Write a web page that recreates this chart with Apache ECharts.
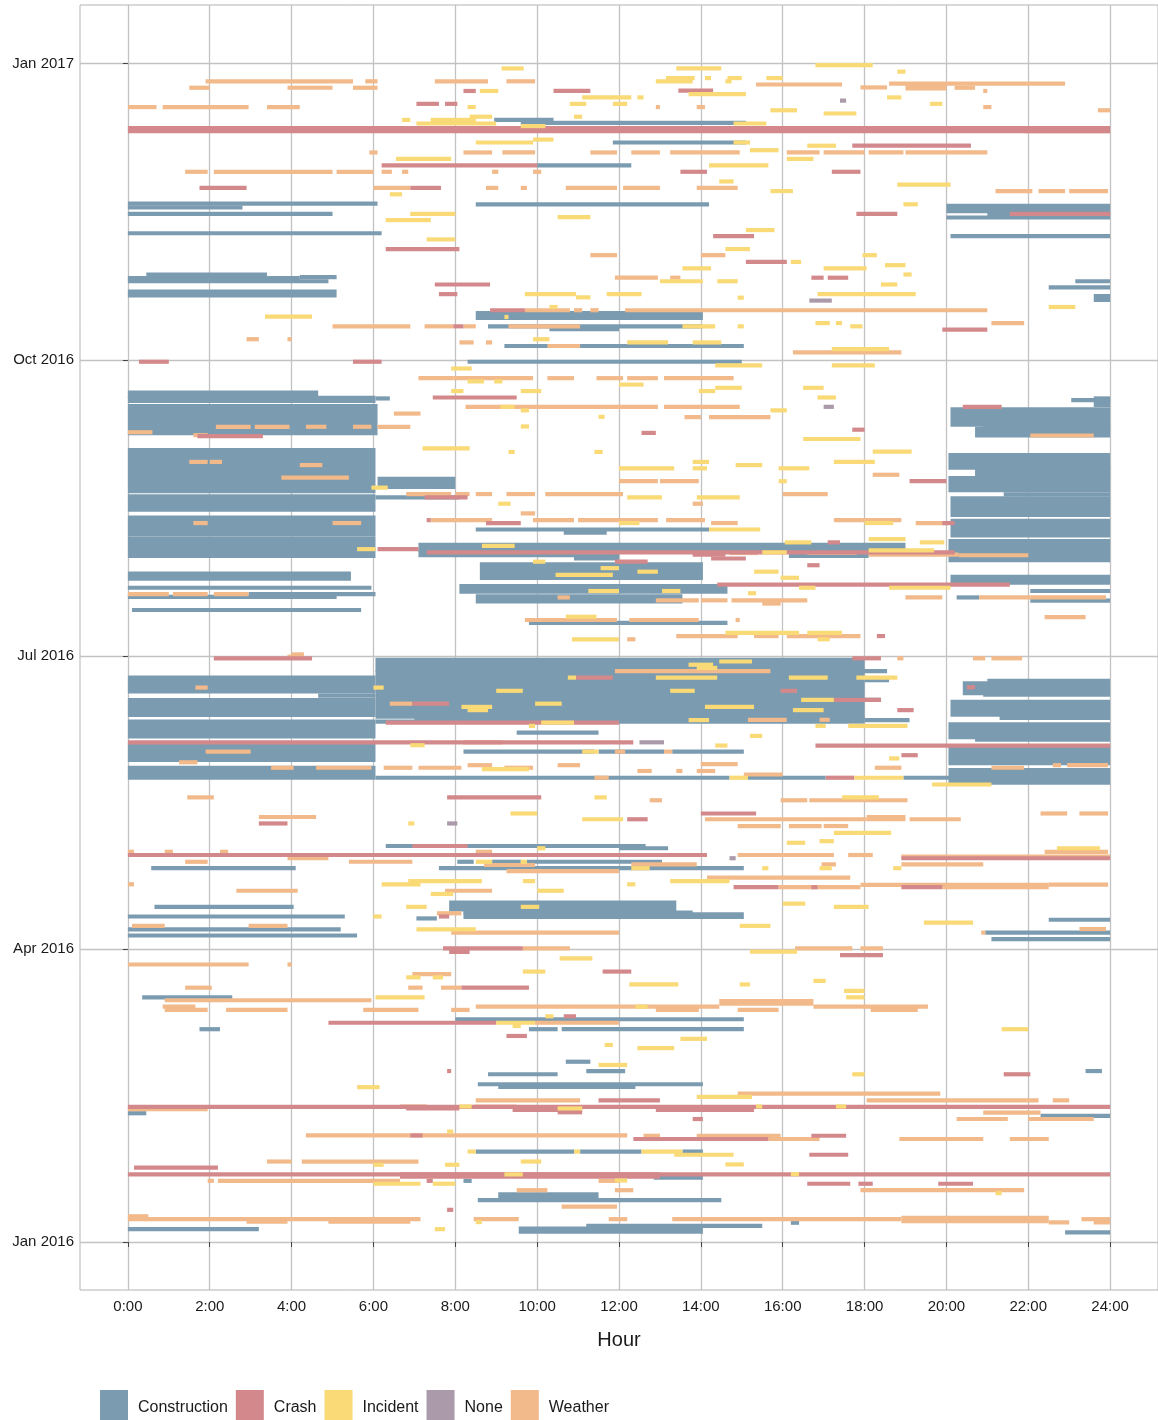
<!DOCTYPE html>
<html>
<head>
<meta charset="utf-8">
<script src="https://cdn.jsdelivr.net/npm/echarts@6/dist/echarts.min.js"></script>
<style>
  html, body { margin: 0; background: #ffffff; }
  #chart { width: 1158px; height: 1420px; }
</style>
</head>
<body>
<div id="chart"></div>
<script>
// each event: [day (days since 1 Jan 2016), start hour, end hour, last day if it spans several days]
var construction = [
  [348.5, 8.95, 10.4], [347.6, 9.6, 15.1], [341.5, 11.85, 15.1], [334.4, 10.0, 12.3],
  [322.5, 0, 6.1], [321.3, 0, 2.8], [322.3, 8.5, 14.2], [319.3, 0, 5.0], [313.3, 0, 6.2],
  [320.2, 20.0, 24, 321.8], [319.2, 21.0, 24], [318.2, 20.0, 24], [312.4, 20.1, 24],
  [300.5, 0.45, 3.4], [299.4, 0, 4.2], [299.7, 4.2, 5.1], [298.4, 0, 4.9], [294, 0, 5.1, 295.2],
  [287, 8.5, 14.05, 288.5], [284.4, 8.8, 14.05], [283.5, 10.3, 12], [278.3, 9.2, 15.05],
  [273.4, 8.3, 15.0], [298.4, 23.15, 24], [296.5, 22.5, 24], [292.6, 23.6, 24, 293.8],
  [262.8, 0, 4.65, 263.8], [261.2, 0, 6.05, 262.2], [262, 6.05, 6.4], [251.2, 0, 6.1, 259.6],
  [261.5, 23.05, 24], [260, 23.6, 24, 262], [253.9, 20.1, 24, 258.6], [250.5, 20.7, 24, 252.6],
  [253.2, 20.9, 24],
  [233.2, 0, 6.05, 246], [234.5, 6.1, 8.0, 237], [227.5, 0, 6.05, 231.6], [231.3, 6.05, 8.1],
  [219.8, 0, 6.05, 225], [221.3, 8.5, 14.2], [220.3, 10.65, 11.7], [213.1, 0, 6.05, 218.5],
  [215, 7.1, 19.0, 216.5], [213.3, 7.1, 12.0, 214.5], [213.1, 16.15, 18.1], [212.3, 10.9, 12],
  [206.3, 8.6, 14.05, 210.5], [206, 0, 5.45, 207.6], [203.2, 0, 5.95], [202, 8.1, 14.65, 203.7],
  [199, 8.5, 13.55, 200.5], [201.2, 2.95, 6.05], [200.4, 0, 5.1], [196.3, 0.1, 5.7], [192.3, 9.8, 14.65],
  [204.8, 20.1, 24, 206.6], [202.2, 22.05, 24], [199.2, 22.05, 24], [200.2, 20.25, 20.8],
  [240.5, 20.05, 24, 244.4], [237.5, 20.7, 24, 240.3], [233.5, 20.05, 24, 237.3], [232.2, 21.4, 24],
  [225.8, 20.1, 24, 231], [219.5, 20.1, 24, 224], [211.8, 20.05, 24, 217.7],
  [171, 0, 6.05, 175.3], [169.7, 4.65, 6.05], [163.7, 0, 6.05, 168.3], [157, 0, 6.05, 161.6],
  [149.7, 0, 6.05, 154.3], [144.2, 0, 6.05, 147.3],
  [177.8, 6.05, 18.0, 180.8], [177.3, 7.0, 18.55], [163.2, 6.05, 18.0, 176.8], [174.5, 18.0, 18.6],
  [168.4, 18.0, 18.4], [162.6, 7.0, 18.0], [162.1, 18.0, 19.1], [161.6, 6.05, 18.0],
  [158.2, 9.5, 11.5], [152.3, 8.2, 11.4], [152.3, 11.5, 13.1], [152.3, 13.3, 15.05],
  [144.2, 6.05, 14.7], [144.2, 15.15, 17.05], [144.2, 18.95, 20.1],
  [170.5, 20.4, 24, 173.5], [174.3, 21.0, 24], [170, 20.9, 24], [163.8, 20.1, 24, 167.8],
  [162.8, 21.3, 24], [156.8, 20.05, 24, 160.8], [156, 20.7, 24], [148.7, 20.05, 24, 153.3],
  [142.7, 20.05, 24, 146.6], [123, 6.3, 12.65], [122.3, 12.0, 13.2],
  [118.1, 8.05, 8.45], [118.1, 8.9, 9.6], [118.1, 9.75, 13.05], [116.1, 0.57, 4.1], [116.1, 7.6, 15.05],
  [103.3, 7.85, 13.4, 105.4], [102.3, 8.2, 13.8], [101, 8.2, 15.05, 101.8], [104.1, 0.65, 4.05],
  [101.1, 0, 5.3], [100.5, 7.05, 7.55], [97.1, 0, 5.2], [95.2, 0, 5.6], [76, 0.35, 2.55],
  [69.2, 8.0, 15.05], [66.1, 1.75, 2.25], [66.1, 9.8, 10.5], [66.1, 10.6, 15.05],
  [100.1, 22.5, 24], [96.1, 20.95, 24], [94.1, 21.1, 24],
  [56, 10.7, 11.3], [53.1, 11.2, 12.15], [53.1, 23.4, 23.8], [52.1, 8.8, 10.5], [49, 8.55, 14.05],
  [48.2, 9.05, 12.4], [40.0, 0, 0.45], [39.2, 22.3, 24], [28.1, 8.5, 10.9], [28.1, 11.05, 12.55],
  [28.1, 13.55, 14.05], [20.0, 12.85, 14.05], [13.9, 9.05, 11.5, 14.8], [13.0, 8.55, 14.5],
  [19.0, 8.2, 8.4], [4.0, 0, 3.2], [3.2, 9.55, 14.05, 4.2], [5.0, 11.2, 15.5], [3.0, 22.9, 24],
  [6.0, 16.2, 16.4]
];

var crash = [
  [357.5, 8.2, 8.5], [357.5, 10.4, 11.3], [353.5, 7.05, 7.6], [353.5, 7.75, 8.05], [357.6, 13.45, 14.3],
  [345, 0, 24, 346], [334.4, 6.2, 10.0], [327.4, 1.75, 2.9], [327.4, 6.9, 7.65], [308.4, 6.3, 8.1],
  [340.5, 17.7, 20.6], [332.4, 13.5, 14.15], [332.4, 17.2, 17.9], [319.3, 17.8, 18.8],
  [319.3, 21.55, 24], [312.4, 14.3, 15.3],
  [297.4, 7.5, 8.85], [294.4, 7.6, 8.05], [289.4, 8.85, 9.7], [273.4, 0.27, 1.0], [273.4, 5.5, 6.2],
  [262.3, 7.45, 9.5], [250.3, 1.7, 3.3], [304.4, 15.1, 16.1], [299.5, 16.7, 17.0], [299.5, 17.1, 17.6],
  [283.4, 19.9, 21.0], [259.4, 20.4, 21.35], [252.3, 17.7, 18.0], [251.3, 12.55, 12.9], [284.4, 7.95, 8.2],
  [231.3, 7.25, 8.3], [224.2, 7.3, 7.4], [223.3, 8.75, 9.6], [215.2, 6.1, 7.1], [214.2, 7.3, 20.2],
  [236.3, 19.1, 20.0], [223.3, 19.9, 20.2], [217.3, 17.1, 17.4], [212.3, 14.25, 15.1], [210.2, 16.6, 16.9],
  [204.2, 14.4, 21.55], [188.2, 18.3, 18.5], [211.3, 11.9, 12.7], [213.5, 13.8, 14.6],
  [181.3, 2.1, 4.5], [175.3, 10.95, 11.85], [167.2, 6.95, 7.85], [161.3, 6.3, 12], [155.2, 0, 12.35],
  [154.2, 16.8, 24], [138.1, 7.8, 10.1], [130.0, 3.2, 3.9], [123.0, 6.95, 8.3], [181.3, 17.7, 18.4],
  [168.4, 17.25, 18.4], [171.2, 15.95, 16.35], [165.2, 18.8, 19.2], [151.2, 18.9, 19.3], [144.2, 17.05, 17.75],
  [133.1, 14.0, 15.35], [131.3, 12.2, 12.7], [172.3, 20.5, 20.7], [120.2, 0, 14.15],
  [119.2, 18.9, 24], [110.2, 14.8, 15.9], [110.2, 18.9, 19.9], [110.2, 16.7, 16.85], [101.1, 7.6, 7.85],
  [91.2, 7.7, 9.65], [90.1, 7.85, 8.35], [84.0, 11.6, 12.3], [79, 8.15, 9.8], [70.1, 10.65, 10.95],
  [68.1, 4.9, 9.0], [64.0, 9.25, 9.75], [89.1, 17.4, 18.45],
  [53.1, 7.8, 7.9], [44.0, 11.5, 13.0], [42, 0, 24], [41.5, 6.8, 8.1], [41, 9.4, 11.1], [40.3, 10.5, 11.1],
  [41, 12.9, 15.3, 41.8], [38.2, 13.8, 14.05], [52.1, 21.4, 22.05], [33.1, 6.9, 7.2], [33.0, 16.7, 17.55],
  [32.0, 12.35, 15.65], [27.1, 16.65, 17.6], [23.1, 0.15, 2.2], [21.0, 0, 24], [20.3, 6.65, 13.0, 21.0],
  [18.1, 16.6, 17.65], [18.1, 17.85, 18.2], [18.1, 19.8, 20.65], [19.0, 7.3, 7.45], [10.0, 7.8, 7.95]
];

var incident = [
  [364.5, 9.13, 9.67], [357.5, 8.6, 9.05], [355.5, 11.1, 12.3], [353.5, 10.8, 11.2], [353.5, 11.85, 12.2],
  [352.5, 8.3, 8.5], [349.5, 8.35, 8.9], [349.5, 10.9, 11.1], [348.5, 6.7, 6.9], [348.5, 7.4, 8.5],
  [347.4, 7.05, 9.0], [346.6, 9.6, 10.2], [342.4, 9.9, 10.4], [341.5, 8.5, 9.9], [336.4, 6.55, 7.9],
  [325.4, 6.4, 6.7], [319.3, 6.9, 8.0], [318.3, 10.5, 11.3], [317.4, 6.3, 7.4], [311.4, 7.3, 8.0],
  [365.5, 16.8, 18.2], [364.5, 13.4, 14.5], [363.5, 18.8, 19.0], [361.5, 13.15, 13.85], [361.5, 14.1, 14.25],
  [361.5, 14.65, 15.0], [361.5, 15.6, 16.0], [360.5, 12.9, 13.8], [360.5, 14.6, 14.75], [356.5, 13.7, 15.1],
  [355.5, 12.45, 12.6], [355.5, 18.55, 18.9], [353.5, 19.6, 19.9], [351.5, 15.7, 16.35], [350.5, 17.0, 17.8],
  [347.4, 14.8, 15.6], [341.5, 14.8, 15.2], [340.5, 16.6, 17.3], [339.1, 15.2, 15.9], [336.4, 16.1, 16.75],
  [334.4, 14.2, 15.65], [329.4, 14.45, 14.8], [328.4, 18.8, 20.1], [326.4, 15.7, 16.25], [322.3, 18.95, 19.3],
  [314.3, 15.1, 15.8], [308.4, 14.6, 15.2], [306.5, 17.95, 18.3],
  [287.4, 3.35, 4.5], [294.4, 9.7, 10.95], [293.4, 10.95, 11.3], [294.4, 11.7, 12.55], [290.4, 10.3, 10.5],
  [287.3, 9.2, 9.3], [280.4, 9.9, 10.3], [271.3, 7.9, 8.4], [267.3, 8.3, 8.7], [267.3, 8.95, 9.15],
  [264.3, 7.9, 8.2], [264.3, 9.6, 10.1], [259.4, 9.1, 9.45], [258.3, 9.6, 9.8], [246.5, 7.2, 8.35],
  [245.4, 9.3, 9.45], [245.4, 11.4, 11.6], [256.3, 11.5, 11.65], [253.3, 9.6, 9.8],
  [304.4, 16.2, 16.45], [302.4, 13.55, 14.25], [302.4, 17.0, 18.05], [303.4, 18.5, 19.0], [298.4, 13.0, 14.05],
  [298.4, 14.4, 14.9], [300.5, 18.95, 19.15], [297.4, 18.4, 18.8], [294.4, 16.85, 19.25], [293.3, 14.9, 15.05],
  [290.4, 22.5, 23.15], [284.4, 13.55, 14.35], [285.4, 16.8, 17.15], [285.4, 17.3, 17.45], [284.4, 17.65, 17.95],
  [284.4, 14.9, 15.05], [279.4, 12.2, 13.2], [279.4, 13.8, 14.5], [277.3, 17.2, 18.6], [272.3, 14.35, 15.5],
  [272.3, 17.2, 18.25], [266.3, 12.0, 12.6], [265.3, 14.35, 15.0], [265.3, 16.5, 17.0], [264.3, 13.95, 14.35],
  [262.3, 16.85, 17.3], [258.3, 15.7, 16.1], [249.4, 16.5, 17.9], [245.5, 18.2, 19.15],
  [234.3, 5.95, 6.35], [229.3, 9.05, 9.35], [216.2, 8.65, 9.45], [215.2, 5.6, 6.05], [211.3, 9.9, 10.2],
  [207.2, 10.45, 11.85], [209.3, 11.55, 12], [202.2, 11.25, 12], [194.2, 10.7, 11.45], [187.2, 10.85, 12],
  [242.3, 13.8, 14.2], [242.3, 17.25, 18.25], [241.3, 14.85, 15.5], [240.3, 12.0, 13.35], [240.3, 13.8, 14.15],
  [240.3, 15.9, 16.65], [236.3, 15.9, 16.1], [231.3, 12.2, 13.05], [231.3, 13.9, 14.95], [223.3, 12.0, 12.5],
  [223.3, 18.0, 18.7], [221.3, 14.2, 15.45], [218.3, 18.1, 19.0], [217.3, 16.05, 16.7], [217.3, 19.35, 19.95],
  [214.8, 18.1, 19.7], [214.2, 15.5, 16.1], [208.2, 15.3, 15.9], [208.2, 12.45, 12.95], [206.3, 15.95, 16.4],
  [203.2, 16.4, 16.8], [203.2, 18.6, 20.1], [202.2, 13.05, 13.5], [201.5, 15.15, 15.35], [189.2, 14.6, 16.4],
  [189.2, 16.6, 17.45], [187.2, 16.85, 17.15],
  [175.3, 10.75, 10.95], [172.2, 6.0, 6.25], [171.2, 9.0, 9.65], [167.2, 9.95, 10.6], [166.2, 8.15, 8.9],
  [165.2, 8.3, 8.8], [161.3, 10.1, 10.9], [160.3, 9.8, 9.95], [154.3, 6.9, 7.25], [152.3, 11.1, 11.5],
  [146.9, 8.65, 9.8], [138.1, 11.4, 11.7], [133.1, 9.35, 10.0], [131.3, 11.1, 12.1], [130.0, 6.85, 7.0],
  [122.3, 10.0, 10.2], [180.3, 14.45, 15.25], [179.3, 13.7, 14.3], [178.3, 13.9, 14.4], [175.3, 12.9, 14.4],
  [175.3, 16.15, 17.1], [175.3, 17.8, 18.8], [171.2, 13.25, 13.85], [168.4, 16.45, 17.25], [166.2, 14.1, 15.3],
  [165.2, 16.25, 17.0], [162.1, 13.7, 14.2], [160.3, 17.6, 19.05], [160.3, 16.8, 17.05], [157.2, 15.2, 15.5],
  [154.2, 14.35, 14.65], [150.2, 18.6, 18.85], [144.2, 14.7, 15.15], [144.2, 17.75, 18.95], [142.1, 19.65, 21.1],
  [138.1, 17.45, 18.35], [127.1, 17.25, 18.65], [124.0, 16.1, 16.55], [124.5, 16.9, 17.25], [122.3, 22.7, 23.75],
  [118.1, 8.5, 8.9], [118.1, 9.6, 9.75], [112.1, 6.85, 8.65], [111.1, 6.2, 7.15], [112.1, 9.65, 9.95],
  [109.1, 10.0, 10.65], [108.1, 7.4, 7.95], [104.1, 6.8, 7.3], [104.1, 9.6, 10.05], [101.1, 6.0, 6.2],
  [97.1, 7.05, 8.5], [88.1, 10.55, 11.35], [84.0, 9.65, 10.2], [82.2, 6.8, 7.15], [82.2, 7.45, 7.7],
  [76.0, 6.05, 7.25], [70.1, 10.2, 10.4], [68.1, 9.0, 9.95], [67.1, 9.4, 9.6], [61.2, 11.65, 11.85],
  [116.1, 12.3, 12.75], [116.1, 15.5, 15.65], [116.1, 16.9, 17.2], [116.1, 18.7, 18.9], [112.1, 13.25, 14.7],
  [111.1, 12.2, 12.4], [105.1, 16.0, 16.55], [104.1, 17.25, 18.1], [98.2, 14.95, 15.7], [99.2, 19.45, 20.65],
  [90.2, 15.2, 16.35], [81.1, 16.75, 17.05], [80.0, 12.25, 13.45], [80.0, 14.95, 15.2], [78.0, 17.5, 18.0],
  [76.0, 17.55, 18.0], [73.1, 12.4, 12.7], [66.1, 21.35, 22.0], [63.1, 13.5, 14.15], [60.2, 12.45, 13.35],
  [55.0, 11.5, 12.2], [48.1, 5.6, 6.15], [42.1, 8.1, 8.4], [41.5, 10.5, 11.1], [34.3, 7.8, 7.95],
  [28.1, 8.3, 8.5], [28.1, 10.9, 11.05], [24.0, 6.0, 6.25], [24.0, 7.75, 8.1], [25.0, 9.6, 10.1],
  [21.0, 9.2, 9.65], [18.1, 6.0, 7.15], [18.1, 7.45, 8.0], [6.2, 8.5, 8.65], [4.0, 7.5, 7.75],
  [52.1, 17.7, 18.0], [45.1, 13.9, 15.25], [42.1, 15.35, 15.5], [42.1, 17.3, 17.55], [28.1, 12.55, 13.55],
  [27.1, 13.35, 14.8], [24.1, 14.6, 15.05], [21.1, 16.2, 16.4], [19.1, 11.9, 12.2], [15.2, 21.2, 21.35]
];

var none = [
  [354.5, 17.4, 17.55], [292.4, 16.65, 17.2], [259.4, 17.0, 17.25], [155.2, 12.5, 13.1],
  [130.0, 7.8, 8.05], [119.2, 14.7, 14.85]
];

var weather = [
  [360.5, 1.9, 5.5], [360.5, 5.8, 6.1], [360.5, 7.5, 8.8], [360.5, 9.25, 9.95], [358.5, 1.5, 2.0],
  [358.5, 3.9, 5.0], [358.5, 5.5, 6.1], [352.5, 0, 0.7], [352.5, 0.85, 2.95], [352.5, 3.4, 4.2],
  [338.4, 5.9, 6.1], [338.4, 8.2, 8.9], [338.4, 9.15, 9.95], [338.4, 11.3, 11.95], [332.4, 1.4, 1.95],
  [332.4, 2.1, 5.0], [332.4, 5.1, 6.0], [332.4, 6.2, 6.45], [332.4, 6.7, 6.85], [332.4, 8.9, 9.05],
  [332.4, 9.9, 10.1], [327.4, 6.0, 6.9], [327.4, 8.75, 9.05], [327.4, 9.6, 9.75], [327.4, 10.7, 11.95],
  [306.5, 11.3, 11.95], [359.5, 15.35, 17.45], [359.8, 18.6, 22.9], [358.6, 17.9, 18.55],
  [358.3, 19.0, 20.0, 359], [358.5, 20.2, 20.7], [357.5, 20.9, 21.0], [352.5, 12.9, 13.0],
  [352.5, 13.9, 14.1], [352.5, 20.9, 21.1], [351.5, 23.7, 24], [345, 21.9, 24], [338.4, 12.3, 13.0],
  [338.4, 13.25, 14.95], [338.4, 16.1, 16.9], [338.4, 17.0, 18.0], [338.4, 18.1, 18.95], [338.4, 19.0, 21.0],
  [327.4, 12.1, 13.0], [327.4, 13.9, 14.9], [326.4, 21.2, 22.1], [326.4, 22.25, 22.9], [326.4, 23.0, 23.95],
  [306.5, 14.0, 14.6],
  [289.4, 9.7, 10.8], [289.4, 10.9, 11.1], [289.4, 11.3, 11.5], [284.4, 5.0, 6.9], [284.4, 7.25, 7.95],
  [284.4, 8.2, 8.5], [284.4, 9.3, 11.05], [280.4, 2.9, 3.2], [280.4, 3.9, 4.0], [279.4, 8.1, 8.45],
  [279.4, 8.75, 8.9], [278.3, 10.25, 11.05], [268.3, 7.1, 7.95], [268.3, 7.95, 9.9], [268.3, 10.25, 10.9],
  [268.3, 11.45, 12.1], [268.3, 12.2, 12.95], [268.3, 13.1, 14.8], [259.4, 8.25, 12.95], [259.4, 13.1, 14.95],
  [253.2, 2.15, 3.0], [253.2, 3.1, 3.95], [253.2, 4.35, 4.85], [253.2, 5.5, 5.95], [253.2, 6.1, 6.9],
  [257.3, 6.5, 7.15], [251.5, 0, 0.6], [250.6, 1.6, 1.95], [289.4, 12.15, 21.0], [299.5, 11.9, 12.95],
  [299.5, 13.25, 13.5], [285.4, 21.1, 21.9], [276.3, 16.25, 18.9], [256.2, 13.6, 14.0], [256.2, 14.2, 15.7],
  [250.5, 22.05, 23.6],
  [242.3, 1.5, 1.95], [242.3, 2.0, 2.3], [241.3, 4.2, 4.75], [237.4, 3.75, 5.4], [232.3, 6.8, 7.9],
  [232.3, 8.0, 8.35], [232.3, 8.5, 8.9], [232.3, 9.25, 9.95], [232.3, 10.2, 12.1], [226.3, 9.6, 9.95],
  [223.3, 1.6, 1.95], [223.3, 5.0, 5.7], [224.2, 7.4, 8.9], [224.2, 9.9, 10.9], [224.2, 11.0, 12.95],
  [224.2, 13.15, 14.1], [224.2, 17.25, 18.9], [214, 14.7, 15.4], [214, 16.6, 17.8], [213.5, 18.1, 20.3],
  [213.3, 20.3, 22.0], [201.2, 0, 1.0], [201.2, 1.1, 1.95], [201.2, 2.1, 2.95], [200.2, 10.5, 10.8],
  [193.2, 9.7, 11.95], [238.3, 18.2, 18.85], [236.3, 12.0, 12.95], [236.3, 13.0, 13.95], [232.3, 16.0, 17.1],
  [229.3, 13.8, 14.05], [223.3, 14.25, 14.9], [223.3, 19.25, 20.05], [200.2, 19.0, 19.9], [200.2, 20.8, 22.05],
  [200.2, 22.05, 23.9], [199.3, 12.9, 13.95], [199.3, 14.0, 14.65], [199.3, 14.75, 16.6], [198.3, 15.5, 15.95],
  [194.1, 22.4, 23.4], [193.2, 12.25, 13.95], [193.2, 14.85, 14.95], [188.2, 13.4, 14.9], [188.2, 15.3, 15.9],
  [188.2, 16.1, 17.9], [187.2, 12.2, 12.4], [182.5, 4.0, 4.3],
  [181.8, 3.9, 4.3], [172.2, 1.65, 1.95], [167.2, 6.4, 6.95], [155.2, 8.2, 9.15], [152.3, 1.9, 3.0],
  [149.0, 1.25, 1.7], [148.1, 8.3, 8.9], [148.1, 10.5, 11.05], [147.3, 3.5, 4.05], [147.3, 4.6, 5.95],
  [147.3, 6.25, 6.95], [147.3, 7.1, 8.15], [147.3, 9.2, 9.9], [144.2, 11.4, 11.75], [138.1, 1.45, 2.1],
  [132.0, 3.2, 4.6], [121.2, 0.9, 1.1], [121.2, 0, 0.15], [121.2, 2.25, 2.45], [121.2, 8.5, 8.9],
  [181.3, 21.1, 21.85], [181.3, 20.65, 20.95], [181.3, 18.8, 18.95], [177.3, 11.9, 15.7], [162.2, 15.15, 16.1],
  [162.2, 16.9, 17.15], [152.3, 13.1, 13.3], [152.3, 11.9, 12.15], [148.4, 14.0, 14.9], [148.1, 22.6, 22.8],
  [148.1, 22.95, 23.95], [147.3, 18.25, 18.9], [147.3, 21.1, 21.9], [146.3, 12.45, 12.8], [146.3, 13.4, 13.55],
  [146.3, 13.9, 14.35], [145.2, 15.05, 16.0], [137.2, 12.75, 13.05], [137.2, 15.95, 16.6], [137.2, 16.65, 19.05],
  [133.1, 22.3, 22.95], [133.1, 23.25, 23.95], [131.3, 14.1, 18.05], [131.3, 18.05, 19.0, 132],
  [131.3, 19.1, 20.35], [129.2, 14.9, 15.95], [129.2, 16.15, 16.95], [129.2, 17.0, 17.6], [121.2, 22.4, 23.95],
  [119.2, 3.9, 4.9], [118.1, 1.4, 1.95], [118.1, 5.4, 6.95], [117.1, 8.7, 9.95], [115.2, 9.25, 12],
  [111.1, 0, 0.15], [109.1, 2.65, 4.15], [109.1, 7.75, 8.9], [102.1, 7.55, 8.15], [98.2, 0.1, 0.9],
  [98.2, 2.95, 3.9], [96.1, 7.9, 12.0], [91.2, 9.65, 10.8], [86.2, 0, 2.95], [86.2, 3.9, 4.0],
  [83.2, 6.95, 7.9], [79.0, 1.4, 2.05], [79.0, 6.85, 7.2], [79.0, 7.65, 8.15], [75.1, 0.9, 5.95],
  [73.1, 0.85, 1.65], [73.1, 8.5, 14.45], [72.1, 0.9, 1.95], [72.1, 2.4, 3.9], [72.1, 5.75, 7.1],
  [72.1, 7.9, 8.35], [68.1, 9.95, 12], [120.2, 14.9, 17.25], [120.2, 17.6, 18.2], [119.7, 18.9, 24],
  [117.3, 12.3, 13.9], [117.3, 16.95, 17.3], [117.3, 18.9, 20.9], [113.2, 14.15, 17.65], [110.2, 15.9, 17.9],
  [110.9, 17.9, 22.5], [110.2, 19.9, 22.5], [111, 22.5, 23.95], [96.1, 20.85, 20.95], [97.2, 23.25, 23.9],
  [91.2, 16.3, 17.7], [91.2, 17.9, 18.45], [74, 14.45, 16.75, 74.8], [73.1, 16.75, 19.55], [72.1, 12.9, 13.95],
  [72.1, 14.9, 15.9], [72.1, 18.15, 19.3],
  [44.0, 8.5, 11.05], [42.1, 6.65, 7.3], [42.1, 8.45, 9.5], [41.3, 0, 1.95], [33.1, 4.35, 12.2],
  [25.0, 3.4, 4.0], [25.0, 4.25, 7.1], [19.0, 1.95, 2.1], [19.0, 2.2, 6.65], [19.0, 11.5, 12.0],
  [16.1, 9.5, 10.25], [16.1, 11.9, 12.35], [11.0, 10.6, 11.95], [8.0, 0, 0.5], [7.1, 0, 7.15],
  [6.3, 2.9, 3.9], [6.3, 4.9, 6.9], [7.1, 8.45, 9.55], [7.1, 11.75, 12.2], [46.1, 14.9, 19.85],
  [44.0, 18.05, 22.25], [44.0, 22.6, 23.0], [40.2, 20.9, 22.3], [38.2, 20.25, 21.5], [38.2, 22.0, 23.6],
  [33.0, 12.6, 13.0], [33.0, 13.9, 15.95], [32.0, 15.65, 16.9], [32.0, 18.85, 20.9], [32.0, 21.55, 22.5],
  [16.1, 17.9, 21.9], [7.1, 13.3, 18.9], [6.5, 18.9, 22.5, 7.5], [6.1, 22.5, 23.0], [7.1, 23.3, 24],
  [6.1, 23.6, 24]
];

var causes = ['Construction', 'Crash', 'Incident', 'None', 'Weather'];
var causeColors = ['#7b9bb0', '#d3898b', '#f9da77', '#ab9aa9', '#f2b98a'];
var hourTicks = [0, 2, 4, 6, 8, 10, 12, 14, 16, 18, 20, 22, 24];
var quarterDays = [0, 91, 182, 274, 366];
var quarterLabels = ['Jan 2016', 'Apr 2016', 'Jul 2016', 'Oct 2016', 'Jan 2017'];

var font = 'Liberation Sans, Arial, sans-serif';
var chart = echarts.init(document.getElementById('chart'));

function toRows(list) {
  return list.map(function (e) {
    return [e[0], e[1], e[2], e.length > 3 ? e[3] : e[0]];
  });
}

function makeSeries(name, list, color) {
  return {
    name: name,
    type: 'custom',
    data: toRows(list),
    encode: { x: [1, 2], y: [0, 3] },
    itemStyle: { color: color },
    renderItem: function (params, api) {
      var top = api.coord([api.value(1), api.value(3) + 0.65]);
      var bottom = api.coord([api.value(2), api.value(0) - 0.65]);
      return {
        type: 'rect',
        shape: { x: top[0], y: top[1], width: bottom[0] - top[0], height: bottom[1] - top[1] },
        style: { fill: color }
      };
    }
  };
}

var option = {
  backgroundColor: '#ffffff',
  animation: false,
  grid: {
    left: 80, right: 0, top: 5, bottom: 130,
    show: true, borderColor: '#b3b3b3', borderWidth: 1
  },
  legend: {
    left: 95, top: 1385,
    itemWidth: 28, itemHeight: 35, itemGap: 8,
    icon: 'rect',
    data: causes,
    textStyle: { fontFamily: font, fontSize: 16, color: '#1a1a1a', padding: [0, 0, 0, 5] }
  },
  xAxis: {
    type: 'value', min: -1.17, max: 25.17,
    name: 'Hour', nameLocation: 'middle', nameGap: 40,
    nameTextStyle: { fontFamily: font, fontSize: 20, color: '#1a1a1a' },
    axisLine: { show: false },
    axisTick: { show: true, length: 5, customValues: hourTicks, lineStyle: { color: '#444' } },
    axisLabel: {
      customValues: hourTicks, margin: 9,
      fontFamily: font, fontSize: 15, color: '#1a1a1a',
      formatter: function (v) { return v + ':00'; }
    },
    splitLine: { show: true, lineStyle: { color: '#c2c2c2', width: 1.3 } }
  },
  yAxis: {
    type: 'value', min: -14.9, max: 384.2,
    axisLine: { show: false },
    axisTick: { show: true, length: 5, customValues: quarterDays, lineStyle: { color: '#444' } },
    axisLabel: {
      customValues: quarterDays, margin: 6,
      fontFamily: font, fontSize: 15, color: '#1a1a1a',
      formatter: function (v) { return quarterLabels[quarterDays.indexOf(v)]; }
    },
    splitLine: { show: true, lineStyle: { color: '#c2c2c2', width: 1.3 } }
  },
  series: [
    makeSeries('Construction', construction, causeColors[0]),
    makeSeries('Weather', weather, causeColors[4]),
    makeSeries('Crash', crash, causeColors[1]),
    makeSeries('Incident', incident, causeColors[2]),
    makeSeries('None', none, causeColors[3])
  ]
};

chart.setOption(option);
</script>
</body>
</html>
